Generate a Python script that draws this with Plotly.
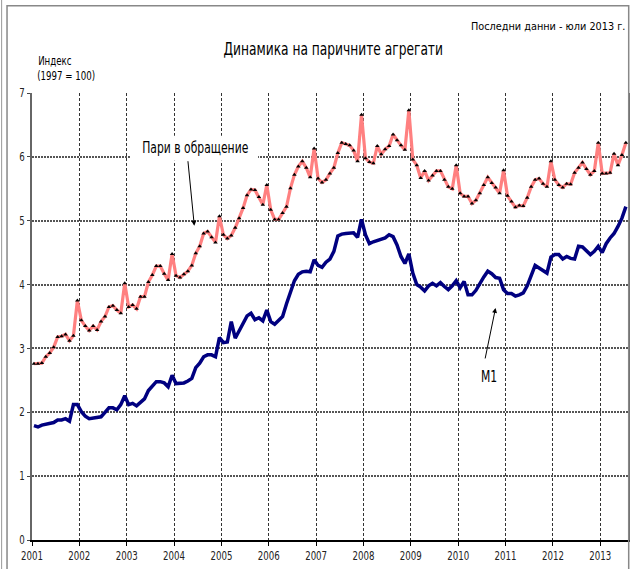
import plotly.graph_objects as go

# ---------------- data ----------------
years = list(range(2001, 2014))
year_labels = [str(y) for y in years]
y_ticks = [0, 1, 2, 3, 4, 5, 6, 7]

# Monthly index (1997 = 100, shown /100), Jan 2001 .. Jul 2013
currency = [
    2.76, 2.76, 2.77, 2.87, 2.93, 3.02, 3.18, 3.19, 3.22, 3.12, 3.20, 3.75,  # 2001
    3.44, 3.35, 3.28, 3.35, 3.29, 3.42, 3.50, 3.65, 3.67, 3.60, 3.55, 4.02,  # 2002
    3.65, 3.68, 3.62, 3.81, 3.81, 4.04, 4.15, 4.29, 4.29, 4.17, 4.07, 4.48,  # 2003
    4.14, 4.11, 4.16, 4.21, 4.30, 4.49, 4.60, 4.80, 4.83, 4.74, 4.66, 5.07,  # 2004
    4.78, 4.72, 4.77, 4.89, 5.04, 5.20, 5.40, 5.49, 5.48, 5.37, 5.25, 5.56,  # 2005
    5.17, 5.02, 5.02, 5.12, 5.22, 5.51, 5.72, 5.85, 5.93, 5.83, 5.68, 6.13,  # 2006
    5.66, 5.60, 5.64, 5.74, 5.83, 6.06, 6.22, 6.20, 6.18, 6.10, 5.93, 6.66,  # 2007
    5.98, 5.92, 5.90, 6.17, 6.04, 6.12, 6.17, 6.35, 6.26, 6.18, 6.11, 6.73,  # 2008
    5.96, 5.87, 5.67, 5.78, 5.63, 5.71, 5.78, 5.78, 5.64, 5.53, 5.50, 5.87,  # 2009
    5.43, 5.38, 5.38, 5.27, 5.32, 5.43, 5.56, 5.68, 5.59, 5.52, 5.43, 5.79,  # 2010
    5.39, 5.30, 5.21, 5.24, 5.23, 5.36, 5.53, 5.64, 5.66, 5.58, 5.53, 5.93,  # 2011
    5.64, 5.56, 5.52, 5.58, 5.57, 5.75, 5.83, 5.91, 5.81, 5.72, 5.78, 6.22,  # 2012
    5.74, 5.74, 5.75, 6.05, 5.87, 6.03, 6.22,                                # 2013
]

m1 = [
    1.79, 1.77, 1.80, 1.81, 1.83, 1.84, 1.88, 1.88, 1.90, 1.86, 2.12, 2.12,  # 2001
    2.01, 1.94, 1.90, 1.91, 1.91, 1.93, 2.00, 2.07, 2.07, 2.04, 2.12, 2.26,  # 2002
    2.12, 2.14, 2.10, 2.15, 2.21, 2.34, 2.42, 2.48, 2.48, 2.46, 2.40, 2.58,  # 2003
    2.45, 2.46, 2.46, 2.49, 2.53, 2.70, 2.77, 2.87, 2.90, 2.90, 2.87, 3.17,  # 2004
    3.09, 3.10, 3.42, 3.16, 3.28, 3.42, 3.51, 3.55, 3.45, 3.48, 3.43, 3.60,  # 2005
    3.42, 3.38, 3.45, 3.50, 3.70, 3.90, 4.06, 4.16, 4.20, 4.21, 4.20, 4.39,  # 2006
    4.30, 4.27, 4.35, 4.40, 4.52, 4.76, 4.79, 4.80, 4.80, 4.81, 4.74, 5.02,  # 2007
    4.78, 4.64, 4.67, 4.69, 4.71, 4.73, 4.78, 4.75, 4.62, 4.44, 4.33, 4.48,  # 2008
    4.18, 4.00, 3.96, 3.90, 3.98, 4.02, 3.98, 4.03, 3.97, 3.92, 3.98, 4.06,  # 2009
    3.95, 4.05, 3.84, 3.84, 3.91, 4.02, 4.12, 4.21, 4.17, 4.11, 4.10, 3.92,  # 2010
    3.86, 3.86, 3.82, 3.84, 3.87, 3.98, 4.16, 4.30, 4.26, 4.22, 4.18, 4.43,  # 2011
    4.47, 4.47, 4.40, 4.44, 4.41, 4.40, 4.60, 4.59, 4.53, 4.47, 4.52, 4.60,  # 2012
    4.50, 4.64, 4.73, 4.80, 4.91, 5.04, 5.22,                                # 2013
]

# month positions (mid-month, decimal years)
x_pos = [2001 + (i + 0.5) / 12 for i in range(len(currency))]

FONT = "Liberation Sans Narrow, DejaVu Sans Condensed, Arial Narrow, sans-serif"

W, H = 634, 569
L, R, T, B = 31.7, 5.7, 93.3, 28.5
PW, PH = W - L - R, H - T - B


def px(xp):
    return (xp - L) / PW


def py(yp):
    return (H - B - yp) / PH


fig = go.Figure()

fig.add_trace(go.Scatter(
    x=x_pos, y=currency, mode="lines+markers",
    line=dict(color="#FF8080", width=3.2),
    marker=dict(symbol="triangle-up", size=4, color="black"),
    name="Пари в обращение", showlegend=False, hoverinfo="skip",
))
fig.add_trace(go.Scatter(
    x=x_pos, y=m1, mode="lines",
    line=dict(color="#000080", width=3.5),
    name="M1", showlegend=False, hoverinfo="skip",
))

fig.update_layout(
    width=W, height=H, autosize=False,
    margin=dict(l=L, r=R, t=T, b=B, pad=0),
    paper_bgcolor="white", plot_bgcolor="white",
    font=dict(family=FONT, size=12, color="#222"),
    showlegend=False,
)

fig.update_xaxes(
    range=[2001, 2001 + (len(currency)) / 12 + 0.003],
    tickvals=years, ticktext=year_labels,
    showgrid=True, gridcolor="#333", gridwidth=1, griddash="3px,2px",
    showline=True, linecolor="black", linewidth=1.5,
    ticks="outside", ticklen=4, tickcolor="black", tickwidth=1,
    tickfont=dict(family=FONT, size=12, color="#222"),
    zeroline=False,
)
fig.update_yaxes(
    range=[0, 7], tickvals=y_ticks,
    showgrid=True, gridcolor="#555", gridwidth=2, griddash="2px,1px",
    showline=True, linecolor="#666", linewidth=1.5, mirror=True,
    ticks="outside", ticklen=3, tickcolor="#444", tickwidth=1,
    tickfont=dict(family=FONT, size=12, color="#222"),
    zeroline=False,
)

annotations = [
    dict(text="Последни данни - юли 2013 г.", x=px(627), y=py(27), xanchor="right",
         font=dict(family=FONT, size=10.8, color="black")),
    dict(text="Динамика на паричните агрегати", x=px(333), y=py(49),
         font=dict(family=FONT, size=17, color="black")),
    dict(text="Индекс", x=px(55), y=py(61),
         font=dict(family=FONT, size=12, color="black")),
    dict(text="(1997 = 100)", x=px(65.5), y=py(76),
         font=dict(family=FONT, size=12, color="black")),
    dict(text="Пари в обращение", x=px(195), y=py(148),
         font=dict(family=FONT, size=15, color="black")),
    dict(text="M1", x=px(489), y=py(377),
         font=dict(family=FONT, size=15, color="black")),
    # arrows
    dict(text="", x=2001 + (194.5 - L) / 47.5, y=(H - B - 226) / 63.9, xref="x", yref="y",
         showarrow=True, arrowhead=2, arrowsize=1, arrowwidth=1, arrowcolor="black",
         ax=-6.5, ay=-66),
    dict(text="", x=2001 + (496.7 - L) / 47.5, y=(H - B - 308.3) / 63.9, xref="x", yref="y",
         showarrow=True, arrowhead=2, arrowsize=1, arrowwidth=1, arrowcolor="black",
         ax=-10.7, ay=52),
]
for a in annotations:
    a.setdefault("xref", "paper")
    a.setdefault("yref", "paper")
    a.setdefault("showarrow", False)
    a.setdefault("xanchor", "center")
    a.setdefault("yanchor", "middle")
fig.update_layout(annotations=annotations)

# white box behind the "Пари в обращение" label (hides the gridlines)
fig.add_shape(type="rect", xref="paper", yref="paper",
              x0=px(130), x1=px(258), y0=py(161), y1=py(136),
              line=dict(width=0), fillcolor="white", layer="above")

# outer frame of the picture
fig.add_shape(type="rect", xref="paper", yref="paper",
              x0=px(6.7), x1=px(629), y0=py(600), y1=py(6),
              line=dict(color="#888", width=1.5), fillcolor="rgba(0,0,0,0)", layer="above")
fig.add_shape(type="line", xref="paper", yref="paper",
              x0=px(1.3), x1=px(1.3), y0=py(600), y1=py(0),
              line=dict(color="#999", width=1), layer="above")

# condense the glyphs (narrow typeface look) and drop the page margin
post = """
document.body.style.margin = '0';
var gd = document.getElementById('{plot_id}');
gd.querySelectorAll('text').forEach(function(t) {
  if ((t.textContent || '').indexOf('Последни') === 0) return;
  var w = t.getComputedTextLength();
  if (w > 0) {
    t.setAttribute('textLength', (w * 0.8).toFixed(2));
    t.setAttribute('lengthAdjust', 'spacingAndGlyphs');
  }
});
"""

fig.write_html("out.html", post_script=post, config={"displayModeBar": False})
